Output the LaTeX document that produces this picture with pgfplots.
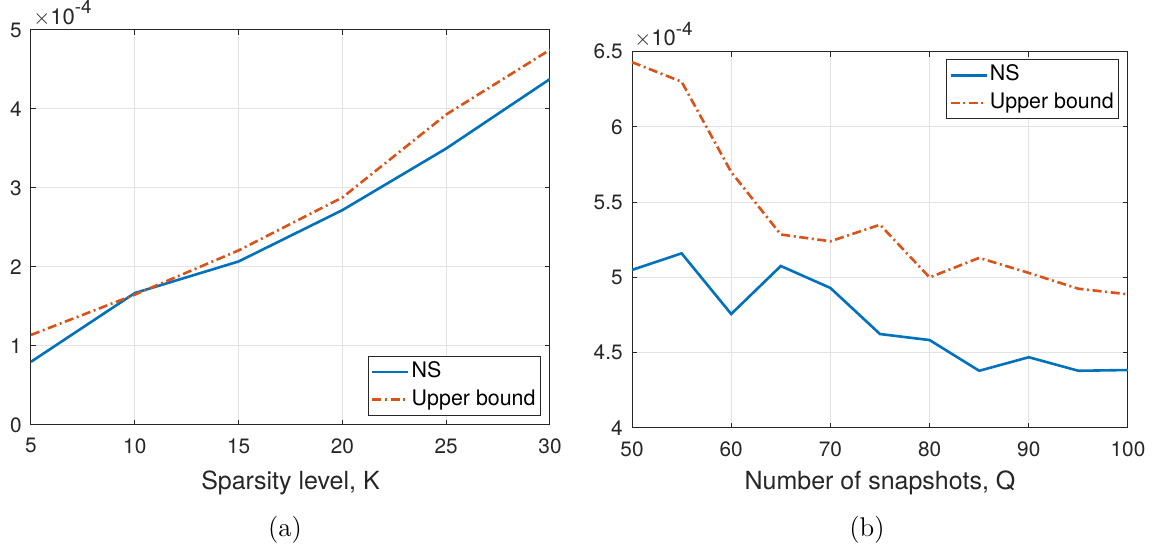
\documentclass[border=0pt]{standalone}
\usepackage{pgfplots}
\pgfplotsset{compat=1.18}
\usepackage{fontspec}
\newfontfamily\hv{TeX Gyre Heros}

\definecolor{nsblue}{RGB}{0,114,189}
\definecolor{ubred}{RGB}{217,83,25}
\definecolor{axgray}{RGB}{38,38,38}

% error versus sparsity level K
\pgfplotstableread{
K   ns        ub
5   0.800e-4  1.140e-4
10  1.670e-4  1.650e-4
15  2.070e-4  2.210e-4
20  2.720e-4  2.880e-4
25  3.500e-4  3.930e-4
30  4.380e-4  4.750e-4
}\sparsitydata

% error versus number of snapshots Q
\pgfplotstableread{
Q    ns        ub
50   5.050e-4  6.430e-4
55   5.160e-4  6.300e-4
60   4.757e-4  5.700e-4
65   5.076e-4  5.285e-4
70   4.930e-4  5.240e-4
75   4.624e-4  5.350e-4
80   4.584e-4  5.000e-4
85   4.380e-4  5.130e-4
90   4.470e-4  5.030e-4
95   4.380e-4  4.925e-4
100  4.385e-4  4.888e-4
}\snapshotdata

\pgfplotsset{
  mlab/.style={
    scale only axis,
    axis line style={axgray, line width=0.5pt},
    tick style={axgray, line width=0.5pt},
    tick align=inside,
    major tick length=2.5pt,
    grid=major,
    major grid style={black!11, line width=0.5pt},
    ticklabel style={font=\hv\fontsize{10.4}{12}\selectfont, text=axgray},
    /pgf/number format/assume math mode=true,
    xticklabel style={inner sep=0pt, yshift=-6.5pt},
    yticklabel style={inner sep=0pt, xshift=-4.5pt},
    label style={font=\hv\fontsize{12.5}{15}\selectfont, text=axgray},
    scaled y ticks=base 10:4,
    ytick scale label code/.code={},
    legend cell align=left,
    legend image code/.code={\draw[##1] (0pt,0pt) -- (18pt,0pt);},
    legend style={draw=axgray, line width=0.5pt, fill=white,
      inner xsep=1.5pt, inner ysep=1pt, row sep=0pt,
      font=\hv\fontsize{10.7}{12}\selectfont,
      nodes={inner xsep=1pt, inner ysep=1.8pt, text height=7.8pt, text depth=2.4pt}},
  },
  ns/.style={nsblue, line width=1.3pt},
  ub/.style={ubred, line width=1.3pt, dash pattern=on 4.5pt off 1.8pt on 1pt off 1.8pt},
}

% multiplier written above the top left corner of an axis box
\newcommand{\scalelabel}[1]{%
  \node[anchor=base west, inner sep=0pt, text=axgray, xshift=1pt, yshift=2.8pt]
    at (#1.north west)
    {\hv\fontsize{11}{13}\selectfont$\times$10\raisebox{5.4pt}{\fontsize{9.4}{11}\selectfont -4}};}

\begin{document}
\begin{tikzpicture}
\useasboundingbox (0,0) rectangle (582pt,275pt);

\begin{axis}[mlab, name=left,
  at={(15.5pt,62.5pt)}, anchor=south west,
  width=259.5pt, height=197.5pt,
  xmin=5, xmax=30, ymin=0, ymax=0.0005,
  xtick={5,10,15,20,25,30},
  ytick={0,0.0001,0.0002,0.0003,0.0004,0.0005},
  xlabel={Sparsity level, K},
  xlabel style={at={(axis description cs:0.5,0)}, anchor=base, yshift=-32.5pt},
  legend style={at={(rel axis cs:1,0)}, anchor=south east, xshift=-4.5pt, yshift=4.5pt},
]
\addplot[ns] table[x=K, y=ns] {\sparsitydata};
\addlegendentry{NS}
\addplot[ub] table[x=K, y=ub] {\sparsitydata};
\addlegendentry{Upper bound}
\end{axis}

\begin{axis}[mlab, name=right,
  at={(316pt,61pt)}, anchor=south west,
  width=248pt, height=188.2pt,
  xmin=50, xmax=100, ymin=0.0004, ymax=0.00065,
  xtick={50,60,70,80,90,100},
  ytick={0.0004,0.00045,0.0005,0.00055,0.0006,0.00065},
  xlabel={Number of snapshots, Q},
  xlabel style={at={(axis description cs:0.5,0)}, anchor=base, yshift=-31pt},
  legend style={at={(rel axis cs:1,1)}, anchor=north east, xshift=-4.4pt, yshift=-3.8pt},
]
\addplot[ns] table[x=Q, y=ns] {\snapshotdata};
\addlegendentry{NS}
\addplot[ub] table[x=Q, y=ub] {\snapshotdata};
\addlegendentry{Upper bound}
\end{axis}

\scalelabel{left}
\scalelabel{right}

\node[anchor=base, font=\fontsize{13.5}{16}\selectfont] at (142.5pt,6.75pt) {(a)};
\node[anchor=base, font=\fontsize{13.5}{16}\selectfont] at (433.5pt,6.75pt) {(b)};
\end{tikzpicture}
\end{document}
